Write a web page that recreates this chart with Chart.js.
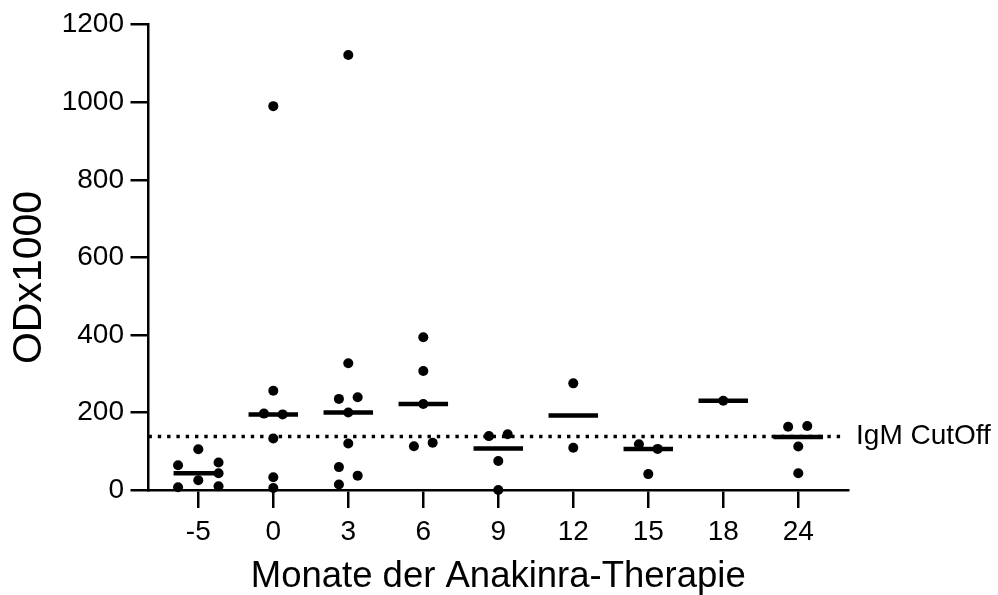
<!DOCTYPE html>
<html>
<head>
<meta charset="utf-8">
<title>IgM ODx1000</title>
<script src="https://cdn.jsdelivr.net/npm/chart.js@4.4.1/dist/chart.umd.min.js"></script>
<style>
    html, body { margin: 0; padding: 0; background: #fff; }
</style>
</head>
<body>
<canvas id="igmChart" width="998" height="595"></canvas>
<script>
// Monate (Kategorien der x-Achse)
const months = ['-5', '0', '3', '6', '9', '12', '15', '18', '24'];

// Messwerte ODx1000 je Zeitpunkt
const odM5 = [105, 71, 64, 43, 25, 9.5, 7];
const od0 = [990, 256, 197, 195, 133, 33, 5];
const od3 = [1122, 327, 235, 239, 200, 120, 59, 37, 14];
const od6 = [394, 307, 222, 113, 122];
const od9 = [139, 144, 75, 0];
const od12 = [275, 109];
const od15 = [118, 106, 41];
const od18 = [230];
const od24 = [163, 165, 112, 43];

// Mediane je Zeitpunkt
const medians = [43, 195, 200, 222, 107, 192, 106, 230, 137];

// IgM CutOff
const cutoff = 138;

// horizontale Streuung der Punkte (in Kategorie-Einheiten)
const spreadM5 = [0, 0.27, -0.27, 0.27, 0, 0.27, -0.27];
const spread0 = [0, 0, -0.125, 0.125, 0, 0, 0];
const spread3 = [0, 0, -0.125, 0.125, 0, 0, -0.125, 0.125, -0.125];
const spread6 = [0, 0, 0, -0.125, 0.125];
const spread9 = [-0.125, 0.125, 0, 0];
const spread12 = [0, 0];
const spread15 = [-0.125, 0.125, 0];
const spread18 = [0];
const spread24 = [-0.135, 0.12, 0, 0];

const groups = [odM5, od0, od3, od6, od9, od12, od15, od18, od24];
const spreads = [spreadM5, spread0, spread3, spread6, spread9, spread12, spread15, spread18, spread24];

const FONT = '"Liberation Sans", Arial, Helvetica, sans-serif';
const X_MIN = -0.664;
const X_MAX = 8.663;
const CUTOFF_END = 8.57;
const HALF_MEDIAN = 0.33;

// Punkte aufbauen
const points = [];
groups.forEach((values, i) => {
    values.forEach((v, k) => {
        points.push({ x: i + spreads[i][k], y: v });
    });
});

// Medianlinien als unterbrochene Linie (null = Lücke)
const medianLine = [];
medians.forEach((m, i) => {
    medianLine.push({ x: i - HALF_MEDIAN, y: m });
    medianLine.push({ x: i + HALF_MEDIAN, y: m });
    medianLine.push({ x: i, y: null });
});

const cutoffLine = [
    { x: X_MIN, y: cutoff },
    { x: CUTOFF_END, y: cutoff },
];

// Beschriftungen: CutOff-Text und y-Achsentitel
const textLabels = {
    id: 'textLabels',
    afterDraw(chart) {
        const ctx = chart.ctx;
        const xs = chart.scales.x;
        const ys = chart.scales.y;
        ctx.save();
        ctx.fillStyle = '#000';
        ctx.textBaseline = 'middle';
        ctx.font = '28px ' + FONT;
        ctx.textAlign = 'left';
        ctx.fillText('IgM CutOff', xs.getPixelForValue(CUTOFF_END) + 15, ys.getPixelForValue(cutoff));

        ctx.translate(30, 277.5);
        ctx.rotate(-Math.PI / 2);
        ctx.textAlign = 'center';
        ctx.font = '41px ' + FONT;
        ctx.fillText('ODx1000', 0, 0);
        ctx.restore();
    }
};

const ctx = document.getElementById('igmChart').getContext('2d');
const chart = new Chart(ctx, {
    type: 'scatter',
    data: {
        datasets: [
            {
                label: 'ODx1000',
                data: points,
                pointRadius: 5,
                pointHoverRadius: 5,
                pointBackgroundColor: '#000',
                pointBorderWidth: 0,
                clip: false,
            },
            {
                label: 'Median',
                data: medianLine,
                showLine: true,
                spanGaps: false,
                borderColor: '#000',
                borderWidth: 4.5,
                borderCapStyle: 'butt',
                pointRadius: 0,
                pointHoverRadius: 0,
                clip: false,
            },
            {
                label: 'IgM CutOff',
                data: cutoffLine,
                showLine: true,
                borderColor: '#000',
                borderWidth: 3.4,
                borderDash: [3.4, 5.9],
                borderCapStyle: 'butt',
                pointRadius: 0,
                pointHoverRadius: 0,
                clip: false,
            },
        ],
    },
    options: {
        responsive: false,
        animation: false,
        devicePixelRatio: 1,
        layout: {
            padding: { left: 0, right: 150, top: 24.7, bottom: 0 },
        },
        plugins: {
            legend: { display: false },
            tooltip: { enabled: false },
        },
        scales: {
            x: {
                type: 'linear',
                min: X_MIN,
                max: X_MAX,
                afterBuildTicks: (scale) => {
                    scale.ticks = months.map((m, i) => ({ value: i }));
                },
                afterFit: (scale) => {
                    scale.height = 105;
                },
                ticks: {
                    callback: (value) => months[value],
                    autoSkip: false,
                    maxRotation: 0,
                    padding: 7,
                    color: '#000',
                    font: { family: FONT, size: 28 },
                },
                grid: {
                    drawOnChartArea: false,
                    tickLength: 18,
                    lineWidth: 2.5,
                    color: '#000',
                },
                border: { color: '#000', width: 2.5 },
                title: {
                    display: true,
                    text: 'Monate der Anakinra-Therapie',
                    color: '#000',
                    font: { family: FONT, size: 36.5, lineHeight: 1 },
                    padding: { top: 0, bottom: 0 },
                },
            },
            y: {
                min: 0,
                max: 1200,
                afterFit: (scale) => {
                    scale.width = 148.5;
                },
                ticks: {
                    stepSize: 200,
                    padding: 6.5,
                    color: '#000',
                    callback: (value) => String(value),
                    font: { family: FONT, size: 28 },
                },
                grid: {
                    drawOnChartArea: false,
                    tickLength: 18,
                    lineWidth: 2.5,
                    color: '#000',
                },
                border: { color: '#000', width: 2.5 },
            },
        },
    },
    plugins: [textLabels],
});
</script>
</body>
</html>
